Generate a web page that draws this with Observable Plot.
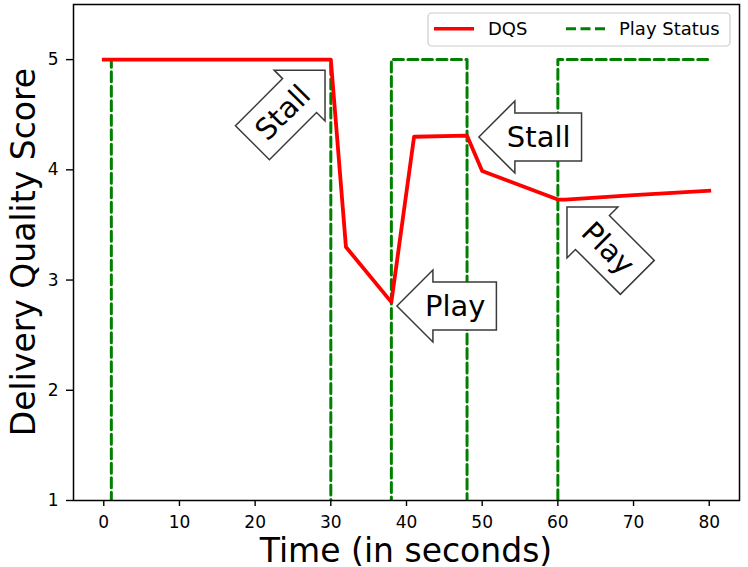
<!DOCTYPE html>
<html>
<head>
<meta charset="utf-8">
<script src="https://cdn.jsdelivr.net/npm/d3@7"></script>
<script src="https://cdn.jsdelivr.net/npm/@observablehq/plot@0.6"></script>
<style>
  html, body { margin: 0; padding: 0; background: #fff; }
  #chart svg { display: block; }
</style>
</head>
<body>
<div id="chart"></div>
<script>
// ---- data ----
const dqsTimes = [0, 30, 32, 38, 41, 48, 50, 60, 61, 70, 80];
const dqsValues = [5, 5, 3.3, 2.8, 4.3, 4.31, 3.99, 3.73, 3.73, 3.77, 3.81];

const statusTimes = [0, 1, 1, 30, 30, 38, 38, 48, 48, 60, 60, 80];
const statusValues = [0, 0, 5, 5, 0, 0, 5, 5, 0, 0, 5, 5];

const xTicks = [0, 10, 20, 30, 40, 50, 60, 70, 80];
const yTicks = [1, 2, 3, 4, 5];

const annLabels = ["Stall", "Play", "Stall", "Play"];
const annX = [29.3, 38.8, 49.63, 61.27];
const annY = [4.90, 2.76, 4.293, 3.658];
const annAngle = [-45, 0, 0, 45];
const annHead = ["end", "start", "start", "start"];

const seriesNames = ["DQS", "Play Status"];
const seriesColors = ["#ff0000", "#008000"];

const dqsData = dqsTimes.map((t, i) => ({t, v: dqsValues[i]}));
const statusData = statusTimes.map((t, i) => ({t, v: statusValues[i]}));
const annData = annLabels.map((label, i) => ({label, x: annX[i], y: annY[i], angle: annAngle[i], head: annHead[i]}));

const FONT = "DejaVu Sans";
const ctx = document.createElement("canvas").getContext("2d");
function textWidth(s, size) { ctx.font = `${size}px "${FONT}"`; return ctx.measureText(s).width; }

function overlay(...args) {
  const scales = args.find(a => a && typeof a.x === "function" && typeof a.y === "function");
  const dims = args.find(a => a && typeof a === "object" && "marginLeft" in a && "width" in a);
  const g = d3.create("svg:g").attr("class", "ovl").attr("text-anchor", "start");
  const fs = 29;
  // annotations (block arrows)
  for (const a of annData) {
    const w = textWidth(a.label, fs);
    const L = 28 + w + 11;
    const s = a.head === "end" ? -1 : 1;
    const pts = [[0,0],[36,-36],[36,-24],[L,-24],[L,24],[36,24],[36,36]].map(([px,py]) => [s*px, py]);
    const grp = g.append("g").attr("transform", `translate(${scales.x(a.x)},${scales.y(a.y)}) rotate(${a.angle})`);
    grp.append("polygon").attr("points", pts.map(p => p.join(",")).join(" "))
      .attr("fill", "white").attr("stroke", "#3a3a3a").attr("stroke-width", 1.5).attr("stroke-linejoin", "miter");
    grp.append("text").attr("x", s*(28 + w/2)).attr("y", 10).attr("text-anchor", "middle")
      .style("font-size", fs + "px").attr("font-family", FONT).attr("fill", "black").text(a.label);
  }
  // legend
  const right = dims.width - dims.marginRight;
  const top = dims.marginTop;
  const lx0 = right - 311, lx1 = right - 9, ly0 = top + 9, ly1 = top + 42;
  g.append("rect").attr("x", lx0).attr("y", ly0).attr("width", lx1 - lx0).attr("height", ly1 - ly0)
    .attr("rx", 4).attr("fill", "white").attr("fill-opacity", 0.8).attr("stroke", "#cccccc").attr("stroke-width", 1.2);
  const ly = ly0 + 15.7;
  const itemX = [lx0 + 6, lx0 + 138];
  const labelX = [lx0 + 60, lx0 + 191];
  seriesNames.forEach((name, i) => {
    const ln = g.append("line").attr("x1", itemX[i]).attr("x2", itemX[i] + 40).attr("y1", ly).attr("y2", ly)
      .attr("stroke", seriesColors[i]).attr("stroke-width", i === 0 ? 3.5 : 3);
    if (i === 1) ln.attr("stroke-dasharray", "10,4.5");
    g.append("text").attr("x", labelX[i]).attr("y", ly + 6.5).attr("text-anchor", "start")
      .style("font-size", "18px").attr("font-family", FONT).attr("fill", "black").text(name);
  });
  // axis labels
  const cx = (dims.marginLeft + dims.width - dims.marginRight) / 2;
  const cy = (dims.marginTop + dims.height - dims.marginBottom) / 2;
  g.append("text").attr("x", cx).attr("y", dims.height - 5).attr("text-anchor", "middle")
    .style("font-size", "33px").attr("font-family", FONT).attr("fill", "black").text("Time (in seconds)");
  g.append("text").attr("transform", `translate(35,${cy}) rotate(-90)`).attr("text-anchor", "middle")
    .style("font-size", "33px").attr("font-family", FONT).attr("fill", "black").text("Delivery Quality Score");
  return g.node();
}

const chart = Plot.plot({
  width: 748,
  height: 567,
  marginLeft: 73,
  marginRight: 9,
  marginTop: 4,
  marginBottom: 67,
  style: {fontFamily: FONT, fontSize: "17px", color: "black", background: "white"},
  x: {domain: [-4, 84], ticks: xTicks, tickSize: 6, tickPadding: 9, label: null, tickFormat: d => String(d)},
  y: {domain: [1, 5.5], ticks: yTicks, tickSize: 7, tickPadding: 8, label: null, tickFormat: d => String(d)},
  marks: [
    Plot.line(statusData, {x: "t", y: "v", stroke: seriesColors[1], strokeWidth: 3, strokeDasharray: "10,4.5", clip: true}),
    Plot.line(dqsData, {x: "t", y: "v", stroke: seriesColors[0], strokeWidth: 3.8, strokeLinejoin: "round", strokeLinecap: "square", clip: true}),
    Plot.frame({stroke: "black", strokeWidth: 1.5}),
    overlay
  ]
});
// enlarge tick labels and thicken tick lines (axis elements only)
const svgSel = d3.select(chart.tagName.toLowerCase() === "svg" ? chart : chart.querySelector("svg"));
svgSel.selectAll("text").filter(function() { return !this.closest(".ovl"); })
  .style("font-size", "17px").style("font-family", FONT).attr("fill", "black");
svgSel.selectAll('[aria-label*="axis"] line, [aria-label*="axis"] path, [aria-label*="tick"] line, [aria-label*="tick"] path')
  .style("stroke-width", "1.4px").style("stroke", "black");
document.getElementById("chart").appendChild(chart);
</script>
</body>
</html>
